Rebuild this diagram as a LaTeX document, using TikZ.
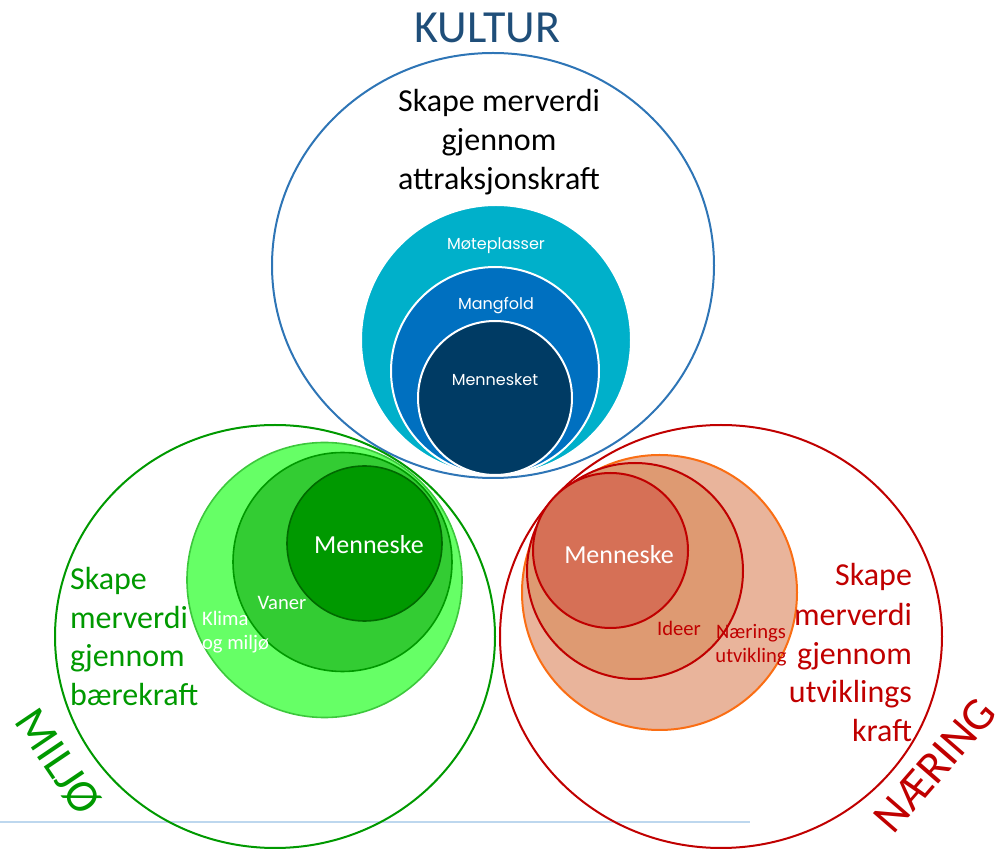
\documentclass[tikz,border=0pt]{standalone}
\usepackage{fontspec}
\setmainfont{Carlito}
\newfontfamily\popfont{Poppins}
\definecolor{kulturblue}{RGB}{46,117,182}
\definecolor{kulturtitle}{RGB}{31,78,121}
\definecolor{linjeblue}{RGB}{189,215,238}
\definecolor{cyanring}{RGB}{0,176,202}
\definecolor{bluering}{RGB}{0,112,192}
\definecolor{navyring}{RGB}{0,59,100}
\definecolor{miljogreen}{RGB}{0,153,0}
\definecolor{lysgreen}{RGB}{102,255,102}
\definecolor{lysgreenline}{RGB}{60,200,60}
\definecolor{midgreen}{RGB}{51,204,51}
\definecolor{darkgreen}{RGB}{0,153,0}
\definecolor{darkgreenline}{RGB}{0,105,0}
\definecolor{naeringred}{RGB}{192,0,0}
\definecolor{peach}{RGB}{233,180,155}
\definecolor{peachline}{RGB}{250,110,20}
\definecolor{midpeach}{RGB}{222,154,114}
\definecolor{innerred}{RGB}{214,112,86}
\begin{document}
\begin{tikzpicture}[x=0.5pt,y=-0.5pt,
	bigtxt/.style={font=\fontsize{16}{19.5}\selectfont},
	titletxt/.style={font=\fontsize{23}{26}\selectfont},
	poptxt/.style={font=\popfont\fontsize{8}{9}\selectfont,text=white},
	smalltxt/.style={font=\fontsize{10.3}{12.3}\selectfont}]
	\useasboundingbox (0,0) rectangle (1002,849);
	\draw[linjeblue,line width=1pt] (0,822)--(750,822);
	% the three big rings
	\draw[kulturblue,line width=1pt] (493,265.5) ellipse [x radius=221,y radius=212.5];
	\draw[miljogreen,line width=1pt] (275,636.5) ellipse [x radius=220,y radius=211.5];
	\draw[naeringred,line width=1pt] (721,636.5) ellipse [x radius=221,y radius=211.5];
	% kultur
	\draw[white,line width=1pt,fill=cyanring] (496,340) circle [radius=135];
	\draw[white,line width=1pt,fill=bluering] (495,371) circle [radius=104];
	\draw[white,line width=1pt,fill=navyring] (495,398) circle [radius=77];
	% miljo
	\draw[lysgreenline,line width=0.8pt,fill=lysgreen] (324.5,580) circle [radius=137.5];
	\draw[darkgreen,line width=0.8pt,fill=midgreen] (342.5,562) circle [radius=109.5];
	\draw[darkgreenline,line width=0.8pt,fill=darkgreen] (364.5,543.5) circle [radius=77.5];
	% naering
	\draw[peachline,line width=1pt,fill=peach] (659.5,592.5) circle [radius=137.5];
	\draw[naeringred,line width=1pt,fill=midpeach] (635,571) circle [radius=108];
	\draw[naeringred,line width=1pt,fill=innerred] (610.5,550.5) circle [radius=77.5];
	% labels
	\node[titletxt,text=kulturtitle,anchor=base] (kultur) at (487.5,43) {KULTUR};
	\node[bigtxt,align=center,anchor=base] (kulturtxt) at (499,190) {Skape merverdi\\gjennom\\attraksjonskraft};
	\node[poptxt] (moteplass) at (496,246) {Møteplasser};
	\node[poptxt] (mangfold) at (496,306) {Mangfold};
	\node[poptxt] (mennesket) at (495,380) {Mennesket};
	\node[font=\fontsize{13}{15}\selectfont,text=white] (menneskeg) at (369,545) {Menneske};
	\node[smalltxt,text=white] (vaner) at (282,603) {Vaner};
	\node[smalltxt,text=white,align=left,anchor=west] (klima) at (195,632) {Klima\\og miljø};
	\node[bigtxt,text=miljogreen,align=left,anchor=base west] (miljotxt) at (63,706) {Skape\\merverdi\\gjennom\\bærekraft};
	\node[font=\fontsize{13}{15}\selectfont,text=white] (menneskor) at (619,555) {Menneske};
	\node[smalltxt,text=naeringred] (ideer) at (679,628) {Ideer};
	\node[smalltxt,text=naeringred,align=center] (naerutv) at (751,645) {Nærings\\utvikling};
	\node[bigtxt,text=naeringred,align=right,anchor=base east] (naertxt) at (919,742) {Skape\\merverdi\\gjennom\\utviklings\\kraft};
	\node[titletxt,text=miljogreen,rotate=-56] (miljo) at (58,762) {MILJØ};
	\node[titletxt,text=naeringred,rotate=49] (naering) at (935,765) {NÆRING};
\end{tikzpicture}
\end{document}
